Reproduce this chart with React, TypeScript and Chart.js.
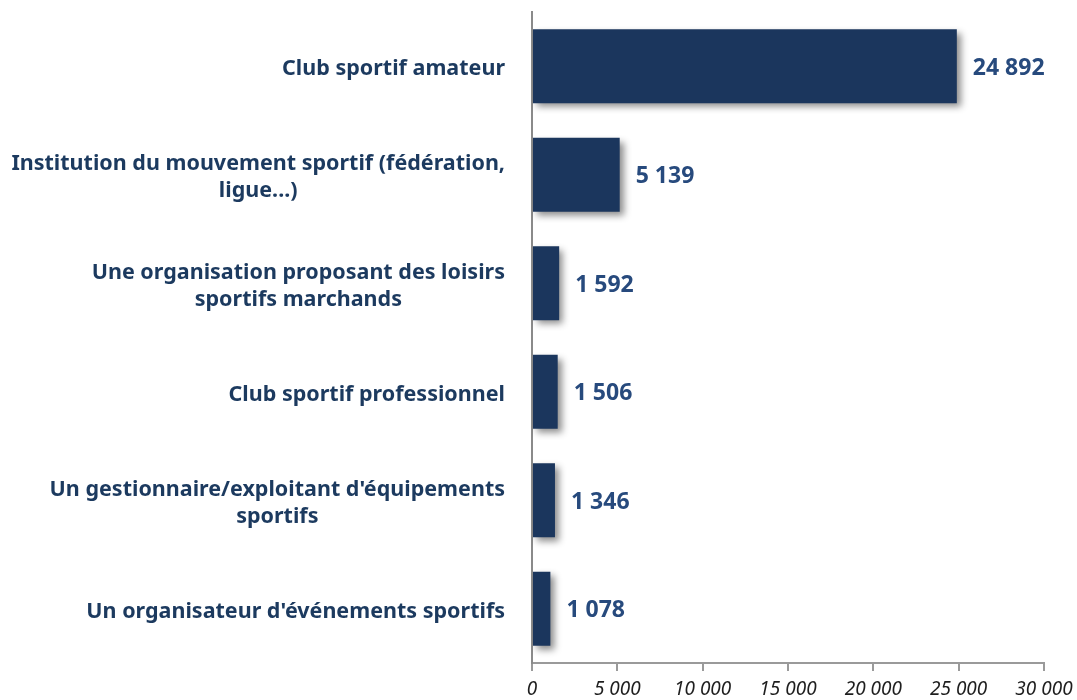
import React, { useEffect, useRef } from "react";
import { Chart, registerables } from "chart.js";

Chart.register(...registerables);

const categories: string[][] = [
  ["Club sportif amateur"],
  ["Institution du mouvement sportif (fédération,", "ligue...)"],
  ["Une organisation proposant des loisirs", "sportifs marchands"],
  ["Club sportif professionnel"],
  ["Un gestionnaire/exploitant d'équipements", "sportifs"],
  ["Un organisateur d'événements sportifs"],
];
const values: number[] = [24892, 5139, 1592, 1506, 1346, 1078];
const xTicks: number[] = [0, 5000, 10000, 15000, 20000, 25000, 30000];

const BAR_COLOR = "#1b365d";
const LABEL_COLOR = "#1c3a5f";
const VALUE_COLOR = "#274a7d";
const FONT = "'Noto Sans', sans-serif";

const fmt = (v: number) => String(Math.round(v)).replace(/\B(?=(\d{3})+(?!\d))/g, " ");

const shadowPlugin = {
  id: "barShadow",
  beforeDatasetDraw(chart: any) {
    const ctx = chart.ctx;
    ctx.save();
    ctx.shadowColor = "rgba(0,0,0,0.45)";
    ctx.shadowBlur = 7;
    ctx.shadowOffsetX = 4;
    ctx.shadowOffsetY = 4;
  },
  afterDatasetDraw(chart: any) {
    chart.ctx.restore();
  },
};

const labelsPlugin = {
  id: "customLabels",
  afterDatasetsDraw(chart: any) {
    const ctx = chart.ctx;
    const meta = chart.getDatasetMeta(0);
    const yScale = chart.scales.y;
    const xScale = chart.scales.x;
    ctx.save();
    // value labels
    ctx.font = `bold 23px ${FONT}`;
    ctx.fillStyle = VALUE_COLOR;
    ctx.textAlign = "left";
    ctx.textBaseline = "middle";
    meta.data.forEach((bar: any, i: number) => {
      ctx.fillText(fmt(values[i]), bar.x + 16, bar.y + 2);
    });
    // category labels
    ctx.font = `bold 21.5px ${FONT}`;
    ctx.fillStyle = LABEL_COLOR;
    ctx.textAlign = "center";
    const rightEdge = chart.chartArea.left - 27;
    const lineH = 27;
    categories.forEach((lines, i) => {
      const yc = yScale.getPixelForTick(i) + 3;
      const w = Math.max(...lines.map((l) => ctx.measureText(l).width));
      const cx = rightEdge - w / 2;
      const top = yc - ((lines.length - 1) * lineH) / 2;
      lines.forEach((l, j) => ctx.fillText(l, cx, top + j * lineH));
    });
    // x tick labels
    ctx.font = `italic 19px ${FONT}`;
    ctx.fillStyle = "#1e1e1e";
    ctx.textAlign = "center";
    xTicks.forEach((v) => {
      ctx.fillText(fmt(v), xScale.getPixelForValue(v), chart.chartArea.bottom + 27);
    });
    ctx.restore();
  },
};

export default function App() {
  const ref = useRef<HTMLCanvasElement | null>(null);
  useEffect(() => {
    if (!ref.current) return;
    const chart = new Chart(ref.current, {
      type: "bar",
      data: {
        labels: categories.map((c) => c.join(" ")),
        datasets: [
          {
            data: values,
            backgroundColor: BAR_COLOR,
            borderWidth: 0,
            barPercentage: 0.85,
            categoryPercentage: 0.8,
          },
        ],
      },
      options: {
        indexAxis: "y",
        animation: false,
        responsive: true,
        maintainAspectRatio: false,
        layout: { padding: { left: 524, top: 12, right: 33, bottom: 0 } },
        plugins: {
          legend: { display: false },
          tooltip: { enabled: false },
        },
        scales: {
          x: {
            min: 0,
            max: 30000,
            afterBuildTicks: (axis: any) => {
              axis.ticks = xTicks.map((v) => ({ value: v }));
            },
            afterFit: (scale: any) => {
              scale.height = 37;
            },
            grid: {
              display: true,
              drawOnChartArea: false,
              drawTicks: true,
              tickLength: 8,
              color: "#9a9a9a",
              lineWidth: 2,
            },
            border: { display: true, color: "#9a9a9a", width: 2 },
            ticks: { display: false },
          },
          y: {
            grid: { display: false },
            border: { display: true, color: "#8a8a8a", width: 2 },
            ticks: { display: false },
          },
        },
      },
      plugins: [shadowPlugin, labelsPlugin],
    });
    return () => chart.destroy();
  }, []);
  return (
    <div style={{ position: "absolute", left: 0, top: 0, width: 1077, height: 700, background: "#fff" }}>
      <canvas ref={ref} />
    </div>
  );
}
